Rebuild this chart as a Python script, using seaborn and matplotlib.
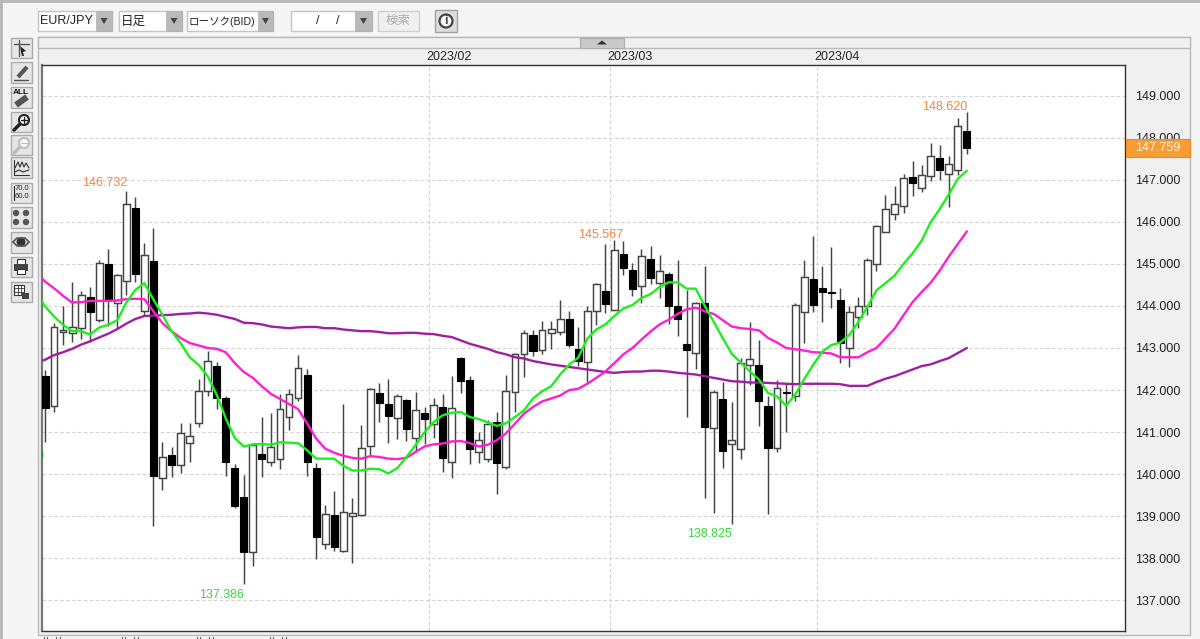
#!/usr/bin/env python
# -*- coding: utf-8 -*-

import pandas as pd
import matplotlib
matplotlib.use('Agg')
import matplotlib.pyplot as plt
import seaborn as sns
from matplotlib.patches import Rectangle, Circle, Polygon

# ==================== chart values ====================
opens = [142.34, 141.63, 143.37, 143.35, 143.47, 144.22, 143.67, 144.99, 144.07, 144.59,
         146.33, 143.88, 145.07, 139.90, 140.45, 140.21, 140.75, 141.22, 141.97, 142.57,
         141.80, 140.15, 139.45, 138.16, 140.48, 140.30, 140.36, 141.37, 141.82, 142.36,
         140.14, 138.34, 139.04, 138.17, 139.00, 139.03, 140.67, 141.92, 141.67, 141.33,
         141.76, 140.87, 141.46, 141.20, 141.60, 140.28, 142.77, 142.23, 140.54, 140.36,
         141.23, 140.17, 141.96, 142.86, 143.31, 142.96, 143.35, 143.38, 143.70, 142.97,
         142.66, 143.87, 144.36, 143.91, 145.24, 144.86, 144.48, 145.12, 144.55, 144.76,
         144.00, 143.09, 142.89, 144.07, 141.10, 141.79, 140.73, 140.60, 142.59, 142.59,
         141.63, 140.63, 141.95, 141.85, 143.85, 144.63, 144.42, 144.32, 144.13, 142.99,
         143.73, 144.00, 145.00, 145.76, 146.19, 146.37, 147.06, 146.81, 147.08, 147.51,
         147.14, 147.22, 148.16]
highs = [142.48, 143.60, 143.99, 144.57, 144.36, 144.46, 145.09, 145.35, 144.75, 146.732,
         146.60, 145.49, 145.85, 140.76, 140.65, 141.21, 141.21, 142.26, 142.93, 142.67,
         141.87, 140.25, 139.98, 140.74, 141.36, 141.45, 141.91, 142.03, 142.84, 142.50,
         140.26, 139.28, 139.61, 141.68, 139.43, 141.18, 142.06, 142.18, 142.27, 141.90,
         141.78, 141.95, 141.60, 141.81, 141.90, 142.33, 142.79, 142.33, 141.01, 141.30,
         141.48, 142.35, 142.88, 143.43, 143.43, 143.65, 143.65, 144.13, 143.87, 143.50,
         143.99, 144.55, 145.46, 145.567, 145.55, 145.02, 145.36, 145.43, 145.22, 144.80,
         145.08, 144.37, 144.10, 144.94, 142.00, 142.20, 141.72, 142.77, 143.62, 143.20,
         141.85, 142.23, 142.15, 144.06, 145.08, 145.65, 144.94, 145.41, 144.42, 143.99,
         144.21, 145.14, 145.93, 146.64, 146.85, 147.13, 147.44, 147.36, 147.86, 147.83,
         147.56, 148.47, 148.620]
lows = [140.76, 141.48, 143.08, 143.15, 143.22, 143.15, 143.62, 143.53, 143.47, 144.27,
        144.57, 143.77, 138.76, 139.62, 139.93, 140.04, 140.30, 141.13, 141.87, 141.55,
        139.97, 139.20, 137.386, 137.83, 139.94, 140.20, 140.13, 141.05, 141.75, 139.97,
        137.99, 138.22, 138.17, 138.15, 137.90, 139.00, 140.45, 141.23, 140.74, 140.83,
        140.79, 140.53, 140.71, 140.87, 140.06, 139.90, 141.93, 140.24, 140.27, 140.30,
        139.52, 140.13, 141.48, 142.31, 142.82, 142.85, 142.98, 143.30, 143.03, 142.57,
        142.20, 143.54, 143.84, 143.90, 144.74, 144.24, 144.08, 144.53, 144.19, 143.58,
        143.29, 141.36, 142.50, 139.43, 139.07, 140.14, 138.825, 140.37, 142.12, 141.15,
        139.05, 140.53, 141.00, 141.73, 143.13, 143.86, 143.61, 143.94, 142.65, 142.54,
        143.47, 143.78, 144.84, 145.75, 146.04, 146.20, 146.62, 146.70, 146.98, 147.00,
        146.36, 147.10, 147.62]
closes = [141.57, 143.51, 143.42, 143.49, 144.26, 143.85, 145.01, 144.15, 144.73, 146.43,
          144.77, 145.22, 139.95, 140.40, 140.21, 140.98, 140.90, 141.98, 142.68, 141.81,
          140.30, 139.24, 138.16, 140.69, 140.37, 140.64, 141.54, 141.91, 142.52, 140.30,
          138.50, 139.06, 138.26, 139.11, 139.09, 140.63, 142.03, 141.70, 141.39, 141.85,
          141.07, 141.52, 141.31, 141.65, 140.39, 141.57, 142.22, 140.59, 140.81, 141.19,
          140.27, 141.97, 142.86, 143.35, 142.93, 143.43, 143.45, 143.70, 143.06, 142.70,
          143.89, 144.51, 144.04, 145.33, 144.90, 144.40, 145.18, 144.66, 144.83, 144.00,
          143.68, 142.95, 144.06, 141.12, 141.96, 140.55, 140.82, 142.65, 142.75, 141.75,
          140.63, 142.05, 141.92, 144.03, 144.69, 144.02, 144.34, 144.30, 143.13, 143.85,
          144.00, 145.09, 145.89, 146.31, 146.42, 147.03, 146.93, 147.12, 147.56, 147.24,
          147.37, 148.28, 147.759]

# the averages start one day before the first candle, cut by the left edge
ma_green = [144.35, 143.99, 143.75, 143.55, 143.40, 143.40, 143.32, 143.49, 143.55, 143.66, 144.08,
            144.38, 144.54, 144.15, 143.79, 143.40, 143.12, 142.78, 142.60, 142.33, 141.89,
            141.33, 140.86, 140.66, 140.71, 140.72, 140.70, 140.76, 140.75, 140.74, 140.57,
            140.37, 140.37, 140.37, 140.20, 140.09, 140.09, 140.13, 140.12, 140.02, 140.15,
            140.41, 140.69, 141.00, 141.24, 141.40, 141.46, 141.48, 141.36, 141.31, 141.23,
            141.15, 141.21, 141.36, 141.52, 141.80, 141.97, 142.09, 142.37, 142.60, 142.77,
            143.22, 143.44, 143.56, 143.76, 143.94, 144.02, 144.19, 144.28, 144.45, 144.56,
            144.56, 144.41, 144.41, 144.00, 143.62, 143.23, 142.86, 142.65, 142.44, 142.25,
            141.93, 141.85, 141.63, 141.89, 142.26, 142.60, 142.91, 143.07, 143.13, 143.31,
            143.62, 143.98, 144.37, 144.54, 144.72, 145.00, 145.25, 145.55, 145.99, 146.30,
            146.65, 147.02, 147.21]
ma_magenta = [144.80, 144.58, 144.42, 144.24, 144.08, 144.09, 144.12, 144.12, 144.12, 144.13, 144.16,
              144.17, 144.16, 143.87, 143.59, 143.40, 143.24, 143.12, 143.06, 143.00, 142.98,
              142.90, 142.64, 142.43, 142.29, 142.09, 141.91, 141.79, 141.67, 141.55, 141.21,
              140.85, 140.61, 140.51, 140.44, 140.39, 140.37, 140.43, 140.41, 140.37, 140.36,
              140.39, 140.53, 140.66, 140.71, 140.73, 140.78, 140.79, 140.74, 140.66, 140.70,
              140.81, 140.97, 141.20, 141.44, 141.60, 141.73, 141.80, 141.87, 142.00, 142.03,
              142.15, 142.29, 142.44, 142.64, 142.85, 143.00, 143.20, 143.39, 143.56, 143.67,
              143.81, 143.92, 143.96, 143.87, 143.81, 143.66, 143.51, 143.47, 143.45, 143.42,
              143.24, 143.13, 143.00, 142.97, 142.94, 142.90, 142.89, 142.87, 142.78, 142.78,
              142.78, 142.90, 143.00, 143.23, 143.46, 143.78, 144.09, 144.33, 144.55, 144.84,
              145.17, 145.47, 145.77]
ma_purple = [142.66, 142.72, 142.83, 142.90, 142.98, 143.08, 143.16, 143.25, 143.34, 143.45, 143.58,
             143.69, 143.76, 143.77, 143.78, 143.79, 143.81, 143.82, 143.84, 143.82, 143.79,
             143.74, 143.69, 143.60, 143.59, 143.56, 143.51, 143.49, 143.47, 143.49, 143.50,
             143.50, 143.47, 143.47, 143.44, 143.42, 143.40, 143.40, 143.38, 143.35, 143.35,
             143.36, 143.36, 143.34, 143.33, 143.29, 143.26, 143.18, 143.10, 143.04, 142.98,
             142.90, 142.85, 142.78, 142.75, 142.69, 142.65, 142.61, 142.58, 142.55, 142.52,
             142.49, 142.46, 142.43, 142.41, 142.43, 142.44, 142.44, 142.46, 142.46, 142.44,
             142.41, 142.39, 142.37, 142.33, 142.29, 142.25, 142.21, 142.20, 142.18, 142.18,
             142.17, 142.16, 142.15, 142.14, 142.15, 142.15, 142.15, 142.15, 142.14, 142.10,
             142.10, 142.10, 142.19, 142.27, 142.33, 142.41, 142.49, 142.57, 142.61, 142.69,
             142.76, 142.88, 143.00]

price_ticks = [137, 138, 139, 140, 141, 142, 143, 144, 145, 146, 147, 148, 149]
month_ticks = [42.46, 62.5, 85.47]
month_labels = ['2023/02', '2023/03', '2023/04']
last_price = 147.759
peak_labels = [(9, 146.732), (63, 145.567), (102, 148.620)]
trough_labels = [(76, 138.825), (22, 137.386)]

COL_WICK = '#444444'
COL_GRID = '#d4d4d4'
COL_UI = '#f5f5f5'
COL_LINE = '#b9b9b9'


def button(ui, x0, y0, x1, y1, face='#e6e6e6', edge='#ababab'):
    ui.add_patch(Rectangle((x0, y0), x1 - x0, y1 - y0, fc=face, ec=edge, lw=1))


def dropdown(ui, x0, x1, arrow_x, label, y0=11, y1=31, size=9):
    ui.add_patch(Rectangle((x0, y0), x1 - x0, y1 - y0, fc='white', ec='#c4c4c4', lw=1))
    ui.add_patch(Rectangle((arrow_x, y0), x1 - arrow_x, y1 - y0, fc='#b9b9b9', ec='#b0b0b0', lw=0.5))
    cx = (arrow_x + x1) / 2
    ui.add_patch(Polygon([(cx - 3.5, 18), (cx + 3.5, 18), (cx, 24)], fc='#444444', ec='none'))
    ui.text(x0 + 2, (y0 + y1) / 2 + 0.5, label, fontsize=size, color='#222222', va='center', ha='left')


def draw_toolbar(ui):
    boxes = [(38, 58), (62, 83), (87, 108), (112, 132), (135, 155), (157, 178),
             (183, 203), (207, 228), (232, 253), (257, 277), (282, 302)]
    for y0, y1 in boxes:
        button(ui, 10.5, y0, 31.5, y1)
    # cursor
    ui.plot([14, 29], [44, 44], color='#555555', lw=1)
    ui.plot([19, 19], [40, 56], color='#555555', lw=1)
    ui.add_patch(Polygon([(20, 46), (26, 51), (23, 52), (24, 56), (22, 56), (21, 52)], fc='#222222', ec='none'))
    # pencil
    ui.plot([18, 27], [77, 67], color='#555555', lw=3, solid_capstyle='butt')
    ui.plot([14, 28], [80, 80], color='#555555', lw=1)
    # all erase
    ui.text(21, 92, 'ALL', fontsize=6, weight='bold', ha='center', va='center', color='#111111')
    ui.plot([16, 27], [105, 97], color='#555555', lw=4.5, solid_capstyle='butt')
    # zoom in / out
    ui.add_patch(Circle((24, 120), 5, fc='white', ec='#222222', lw=1.5))
    ui.plot([14, 20], [130, 124], color='#222222', lw=2.5)
    ui.plot([21, 27], [120, 120], color='#222222', lw=1)
    ui.plot([24, 24], [117, 123], color='#222222', lw=1)
    ui.add_patch(Circle((24, 143), 5, fc='white', ec='#bdbdbd', lw=1.5))
    ui.plot([14, 20], [153, 147], color='#bdbdbd', lw=2.5)
    ui.plot([21, 27], [143, 143], color='#bdbdbd', lw=1)
    # indicator
    ui.plot([14, 14, 29], [160, 175, 175], color='#333333', lw=0.8)
    ui.plot([15, 18, 20, 22, 24, 26, 29], [168, 162, 167, 162, 167, 163, 168], color='#333333', lw=0.8)
    ui.plot([15, 19, 23, 29], [172, 170, 172, 170], color='#333333', lw=0.8)
    # scale
    ui.text(22, 189, '70.0', fontsize=5.5, ha='center', va='center', color='#222222')
    ui.text(22, 197, '60.0', fontsize=5.5, ha='center', va='center', color='#222222')
    ui.plot([14, 14], [186, 200], color='#222222', lw=0.8)
    # marks
    for cx, cy in [(16, 213), (26, 213), (16, 222), (26, 222)]:
        ui.add_patch(Circle((cx, cy), 3.2, fc='#555555', ec='none'))
    # eye
    ui.add_patch(Circle((21, 242), 4.5, fc='#333333', ec='none'))
    ui.plot([13, 17, 25, 29], [242, 238, 238, 242], color='#555555', lw=1.2)
    ui.plot([13, 17, 25, 29], [242, 246, 246, 242], color='#555555', lw=1.2)
    # printer
    ui.add_patch(Rectangle((17, 259), 8, 5, fc='white', ec='#333333', lw=0.8))
    ui.add_patch(Rectangle((14, 264), 14, 7, fc='#444444', ec='none'))
    ui.add_patch(Rectangle((17, 269), 8, 5, fc='white', ec='#333333', lw=0.8))
    # table
    ui.add_patch(Rectangle((14, 285), 10, 10, fc='white', ec='#333333', lw=0.8))
    ui.plot([14, 24], [288, 288], color='#333333', lw=0.6)
    ui.plot([14, 24], [291.5, 291.5], color='#333333', lw=0.6)
    ui.plot([17.5, 17.5], [285, 295], color='#333333', lw=0.6)
    ui.plot([21, 21], [285, 295], color='#333333', lw=0.6)
    ui.add_patch(Rectangle((22, 293), 7, 6, fc='#444444', ec='none'))


def draw_chrome(fig):
    ui = fig.add_axes([0, 0, 1, 1], zorder=0)
    ui.set_xlim(0, 1200)
    ui.set_ylim(639, 0)
    ui.axis('off')

    ui.add_patch(Rectangle((0, 0), 1200, 639, fc=COL_UI, ec='none'))
    ui.add_patch(Rectangle((0, 0), 1200, 2.5, fc=COL_LINE, ec='none'))
    ui.add_patch(Rectangle((0, 0), 3, 639, fc=COL_LINE, ec='none'))
    ui.add_patch(Rectangle((38, 37), 1152, 598, fc='#f0f0f0', ec=COL_LINE, lw=1))
    ui.add_patch(Rectangle((38, 37), 1152, 10.5, fc='#f0f0f0', ec=COL_LINE, lw=1))

    # split handle
    ui.add_patch(Rectangle((580, 37.5), 44, 10, fc='#c9c9c9', ec='#adadad', lw=0.8))
    ui.add_patch(Polygon([(597, 44.5), (607, 44.5), (602, 40.5)], fc='#333333', ec='none'))

    dropdown(ui, 38, 112, 96, 'EUR/JPY')
    dropdown(ui, 119, 182, 166, '日足')
    dropdown(ui, 187, 273, 258, 'ローソク(BID)', size=7.6)
    dropdown(ui, 291, 372, 355, '')
    ui.text(318, 21, '/', fontsize=9, ha='center', va='center', color='#222222')
    ui.text(338, 21, '/', fontsize=9, ha='center', va='center', color='#222222')
    button(ui, 378, 11, 419, 31, face='#f0f0f0', edge='#cfcfcf')
    ui.text(398.5, 21, '検索', fontsize=9, ha='center', va='center', color='#adadad')
    button(ui, 435, 10, 457, 32, face='#dddddd', edge='#a0a0a0')
    ui.add_patch(Circle((446, 21), 6.5, fc='white', ec='#444444', lw=1.6))
    ui.text(446, 21.5, 'i', fontsize=9, weight='bold', ha='center', va='center', color='#444444')

    draw_toolbar(ui)

    # cut off tab labels along the bottom edge
    for x0 in [44, 122, 197, 270]:
        for dx in [0, 3, 12, 16]:
            ui.plot([x0 + dx, x0 + dx], [636.5, 639], color='#555555', lw=0.8)
    return ui


def main():
    sns.set_theme(style='white')
    plt.rcParams['font.family'] = ['Liberation Sans', 'Noto Sans CJK JP', 'DejaVu Sans']
    plt.rcParams['axes.unicode_minus'] = False

    df = pd.DataFrame({'idx': range(len(opens)), 'open': opens, 'high': highs, 'low': lows, 'close': closes})
    ma_df = pd.DataFrame({'idx': range(-1, len(opens)), 'green': ma_green, 'magenta': ma_magenta, 'purple': ma_purple})
    up = df[df['close'] >= df['open']]
    down = df[df['close'] < df['open']]

    fig = plt.figure(figsize=(12, 6.39), dpi=100)
    draw_chrome(fig)

    ax = fig.add_axes([42 / 1200, 8 / 639, 1083 / 1200, 566 / 639], zorder=1)
    ax.set_facecolor('white')

    # Grid
    ax.set_axisbelow(True)
    ax.set_yticks(price_ticks)
    ax.set_yticklabels([f'{p:.3f}' for p in price_ticks], fontsize=9, color='#222222')
    ax.set_xticks(month_ticks)
    ax.set_xticklabels(month_labels, fontsize=9, color='#222222', ha='left')
    ax.grid(True, color=COL_GRID, linestyle=(0, (3, 2)), linewidth=0.85)
    ax.yaxis.tick_right()
    ax.xaxis.tick_top()
    ax.tick_params(axis='y', length=0, pad=7)
    ax.tick_params(axis='x', length=0, pad=1.5)
    for label in ax.get_xticklabels():
        label.set_transform(label.get_transform() + matplotlib.transforms.ScaledTranslation(-2 / 72, 0, fig.dpi_scale_trans))

    # Candles
    ax.vlines(df['idx'], df['low'], df['high'], color=COL_WICK, linewidth=1.05, zorder=2)
    ax.bar(up['idx'], up['close'] - up['open'], bottom=up['open'], width=0.76,
           facecolor='white', edgecolor=COL_WICK, linewidth=1.05, zorder=3)
    ax.bar(down['idx'], down['open'] - down['close'], bottom=down['close'], width=0.78,
           facecolor='black', edgecolor='black', linewidth=0.8, zorder=3)

    # Moving averages
    sns.lineplot(data=ma_df, x='idx', y='purple', ax=ax, color='#a01fa0', linewidth=1.7, zorder=4)
    sns.lineplot(data=ma_df, x='idx', y='magenta', ax=ax, color='#ff1fd0', linewidth=1.7, zorder=5)
    sns.lineplot(data=ma_df, x='idx', y='green', ax=ax, color='#1cf01c', linewidth=1.7, zorder=6)
    ax.vlines(-0.28, 140.42, 140.56, color='#1a9a1a', linewidth=1, zorder=6)
    ax.set_xlabel('')
    ax.set_ylabel('')
    ax.set_xlim(-0.33, 119.5)
    ax.set_ylim(136.275, 149.725)

    # High / low labels
    offsets = {9: (-22, 8), 63: (-14, 5), 102: (-22, 4.5), 76: (-22, -10), 22: (-22, -11)}
    for i, value in peak_labels:
        ax.annotate(f'{value:.3f}', (i, value), xytext=offsets[i], textcoords='offset pixels',
                    color='#fb8439', fontsize=9, ha='center', va='center')
    for i, value in trough_labels:
        ax.annotate(f'{value:.3f}', (i, value), xytext=offsets[i], textcoords='offset pixels',
                    color='#35dc35', fontsize=9, ha='center', va='center')

    # Last price tag on the scale
    ax.add_patch(Rectangle((1.0005, last_price - 0.21), 0.0595, 0.42, transform=ax.get_yaxis_transform(),
                           fc='#fa9c33', ec='#f08a1e', lw=0.8, clip_on=False, zorder=7))
    ax.text(1.0093, last_price, f'{last_price:.3f}', transform=ax.get_yaxis_transform(),
            color='#fff4e0', fontsize=9, ha='left', va='center', zorder=8)

    for side in ['top', 'right', 'bottom']:
        ax.spines[side].set_color('#333333')
        ax.spines[side].set_linewidth(1.0)
    ax.spines['left'].set_color('#777777')
    ax.spines['left'].set_linewidth(1.6)

    plt.savefig('out.png', dpi=100)
    plt.close()


if __name__ == '__main__':
    main()
